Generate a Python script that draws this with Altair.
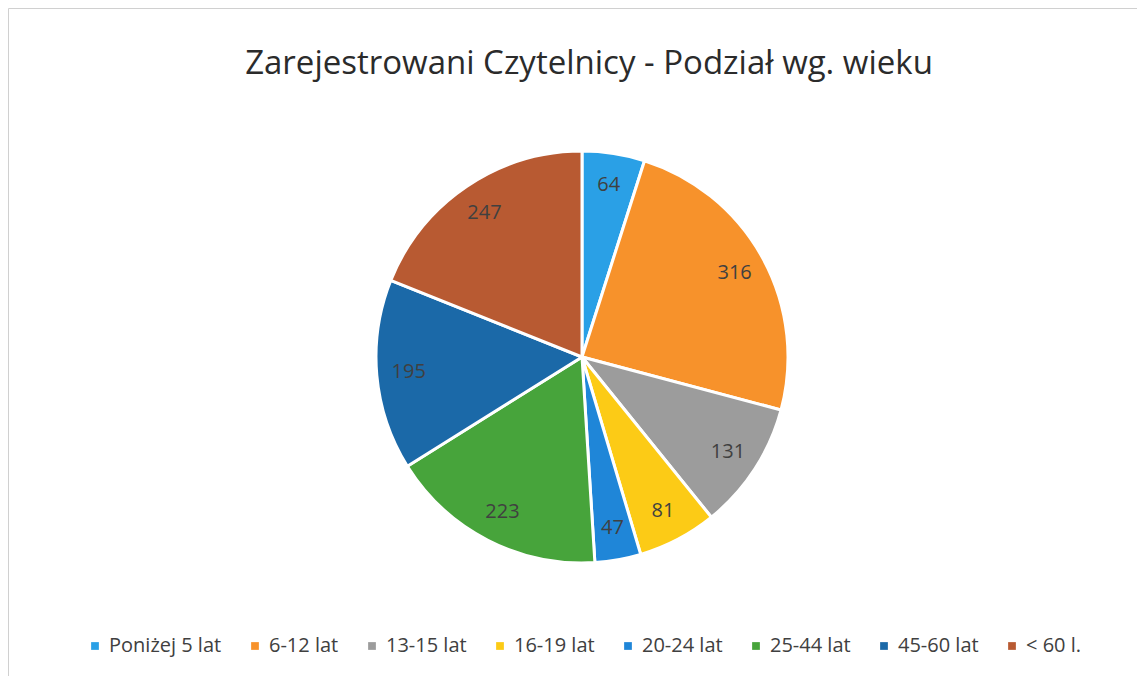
import altair as alt
import pandas as pd

categories = ["Poniżej 5 lat", "6-12 lat", "13-15 lat", "16-19 lat",
              "20-24 lat", "25-44 lat", "45-60 lat", "< 60 l."]
values = [64, 316, 131, 81, 47, 223, 195, 247]
colors = ["#2aa0e6", "#f7922b", "#9c9c9c", "#fccb16",
          "#1f86d8", "#47a43b", "#1b69a8", "#b85a32"]
title_text = "Zarejestrowani Czytelnicy - Podział wg. wieku"

df = pd.DataFrame({"kat": categories, "val": values, "idx": list(range(len(values)))})

W, H = 1129, 668
CX, CY = 574, 349
FONT = "Open Sans"

color = alt.Color("kat:N", scale=alt.Scale(domain=categories, range=colors),
                  legend=alt.Legend(orient="none", legendX=77, legendY=628,
                                    direction="horizontal", columns=8,
                                    title=None, symbolType="square", symbolSize=60,
                                    labelFontSize=20, labelFont=FONT, labelColor="#404040",
                                    columnPadding=23, symbolStrokeWidth=0))

base = alt.Chart(df).encode(
    theta=alt.Theta("val:Q", stack=True),
    order=alt.Order("idx:Q"),
)

pie = base.mark_arc(radius=206, stroke="white", strokeWidth=3).encode(
    color=color, x=alt.value(CX), y=alt.value(CY))

labels = base.mark_text(radius=174, fontSize=20, font=FONT, color="#404040").encode(
    text="val:Q", x=alt.value(CX), y=alt.value(CY))

title = alt.Chart(pd.DataFrame({"t": [title_text]})).mark_text(
    fontSize=33, font=FONT, color="#2b2b2b").encode(
    text="t:N", x=alt.value(581), y=alt.value(56))

chart = alt.layer(pie, labels, title).properties(
    width=W, height=H, autosize=alt.AutoSizeParams(type="none"), padding=0
).configure_view(stroke="#d0d0d0", strokeWidth=1)

chart.save("out.html", embed_options={"renderer": "svg", "actions": False})
